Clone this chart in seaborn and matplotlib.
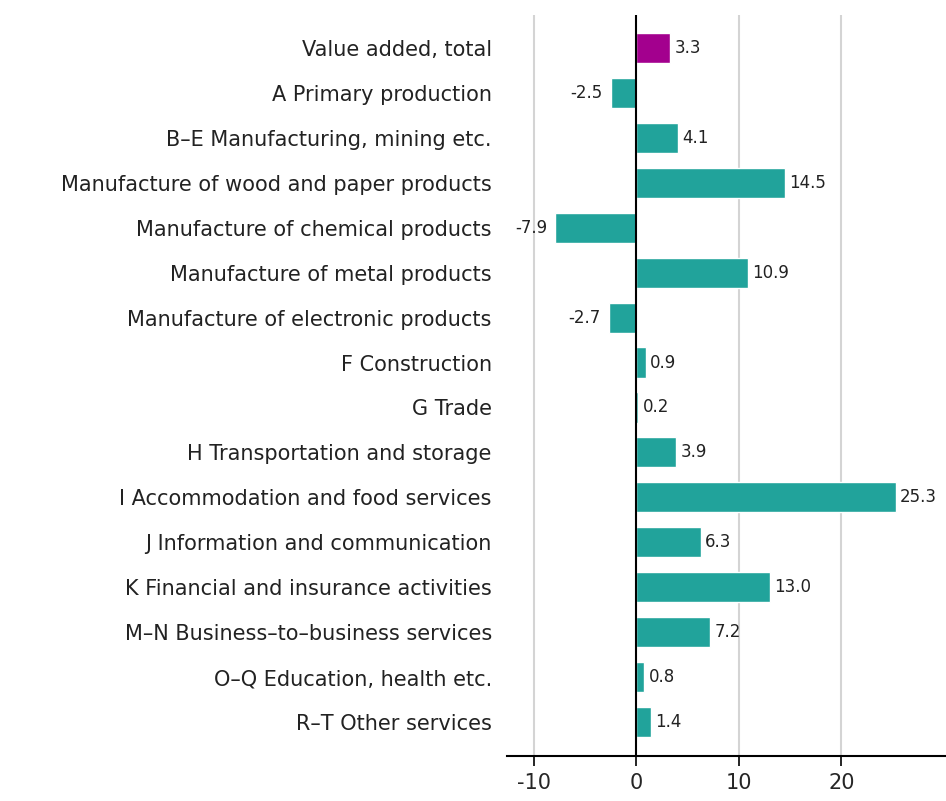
import pandas as pd
import seaborn as sns
import matplotlib.pyplot as plt

# Values
categories = [
    'Value added, total',
    'A Primary production',
    'B\u2013E Manufacturing, mining etc.',
    'Manufacture of wood and paper products',
    'Manufacture of chemical products',
    'Manufacture of metal products',
    'Manufacture of electronic products',
    'F Construction',
    'G Trade',
    'H Transportation and storage',
    'I Accommodation and food services',
    'J Information and communication',
    'K Financial and insurance activities',
    'M\u2013N Business\u2013to\u2013business services',
    'O\u2013Q Education, health etc.',
    'R\u2013T Other services',
]
values = [3.3, -2.5, 4.1, 14.5, -7.9, 10.9, -2.7, 0.9, 0.2, 3.9, 25.3, 6.3, 13.0, 7.2, 0.8, 1.4]
groups = ['total'] + ['industry'] * 15

df = pd.DataFrame({'Industry': categories, 'Change': values, 'Group': groups})

sns.set_style('white')
plt.rcParams['font.family'] = ['DejaVu Sans']
plt.rcParams['axes.unicode_minus'] = False

fig = plt.figure(figsize=(9.46, 8.01), dpi=100)
ax = fig.add_axes([0.536, 0.056, 0.464, 0.925])

palette = {'total': '#A3008E', 'industry': '#21A39B'}
sns.barplot(data=df, x='Change', y='Industry', hue='Group', palette=palette,
            dodge=False, width=0.67, saturation=1, legend=False, ax=ax, zorder=3)

# value labels
for i, v in enumerate(values):
    if v >= 0:
        ax.text(v + 0.4, i, f'{v:.1f}', va='center', ha='left', fontsize=12, color='#222222', zorder=4)
    else:
        ax.text(v - 0.8, i, f'{v:.1f}', va='center', ha='right', fontsize=12, color='#222222', zorder=4)

ax.set_xlim(-12.6, 30.2)
ax.set_ylim(15.76, -0.73)
ax.set_xticks([-10, 0, 10, 20])
for x in [-10, 10, 20]:
    ax.axvline(x, color='#d4d4d4', lw=1.5, zorder=1)
ax.axvline(0, color='black', lw=1.5, zorder=4)

ax.set_xlabel('')
ax.set_ylabel('')
for s in ['left', 'right', 'top']:
    ax.spines[s].set_visible(False)
ax.spines['bottom'].set_color('black')
ax.spines['bottom'].set_linewidth(1.5)
ax.tick_params(axis='x', direction='out', length=7, width=1.2, color='black',
               labelsize=15, pad=5, bottom=True)
ax.tick_params(axis='y', length=0, labelsize=15, pad=11)
for lbl in ax.get_yticklabels():
    lbl.set_color('#222222')

fig.savefig('out.png', dpi=100)
